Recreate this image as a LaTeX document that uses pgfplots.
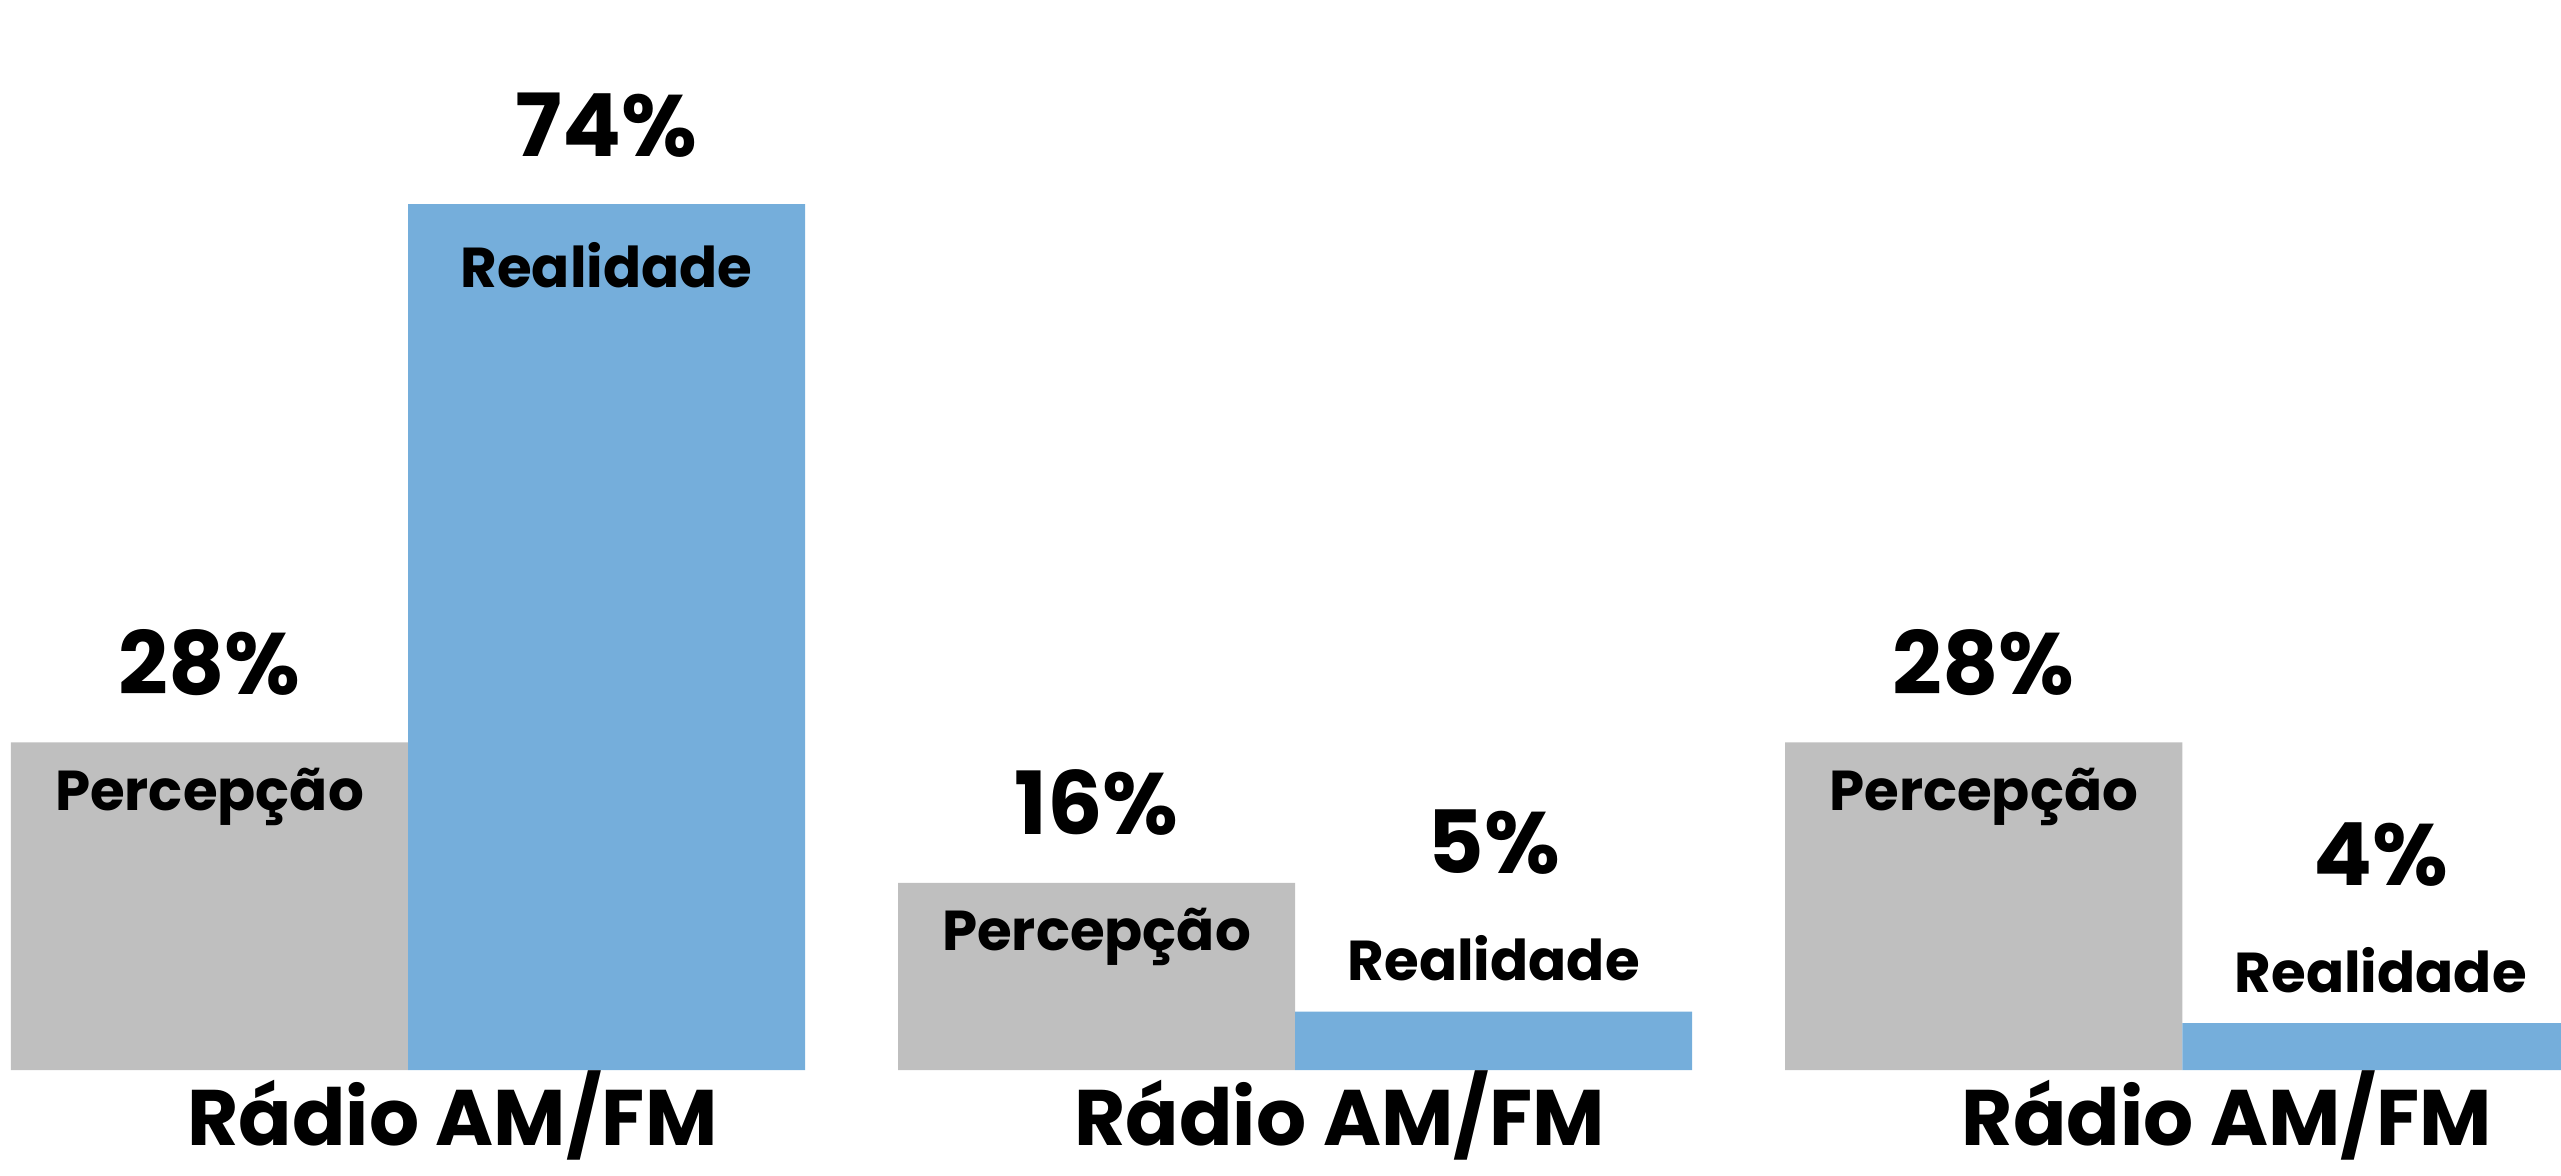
\documentclass[border=0pt]{standalone}
\usepackage{pgfplots}
\pgfplotsset{compat=1.18}
\usepackage{fontspec}
\setmainfont{Poppins}
\definecolor{percgray}{RGB}{191,191,191}
\definecolor{realblue}{RGB}{117,174,219}
\tikzset{
 pct/.style={anchor=base, inner sep=0pt, font=\fontsize{15.5}{18}\selectfont\bfseries},
 lab/.style={anchor=base, inner sep=0pt, font=\fontsize{10}{12}\selectfont\bfseries},
 grp/.style={anchor=base, inner sep=0pt, font=\fontsize{14}{16}\selectfont\bfseries},
}
\begin{document}
\begin{tikzpicture}
\begin{axis}[
 at={(0,0)}, anchor=south west,
 width=16cm, height=7.3409cm, scale only axis,
 xmin=-0.460, xmax=2.427, ymin=-8.974, ymax=91.45,
 axis lines=none, ticks=none, clip=false,
 ybar, bar width=0.4476, bar shift=0pt,
]
\addplot[fill=percgray, draw=none] coordinates {(-0.2238,28) (0.7762,16) (1.7762,28)};
\addplot[fill=realblue, draw=none] coordinates {(0.2238,74) (1.2238,5) (2.2238,4)};
% group 1
\node[pct, yshift=8.5pt] at (axis cs:-0.2238,28) {28\%};
\node[lab, yshift=-12.1pt] at (axis cs:-0.2238,28) {Percepção};
\node[pct, yshift=8.5pt] at (axis cs:0.2238,74) {74\%};
\node[lab, yshift=-14.9pt] at (axis cs:0.2238,74) {Realidade};
% group 2
\node[pct, yshift=8.5pt] at (axis cs:0.7762,16) {16\%};
\node[lab, yshift=-12.1pt] at (axis cs:0.7762,16) {Percepção};
\node[pct, yshift=24.5pt] at (axis cs:1.2238,5) {5\%};
\node[lab, yshift=5.5pt] at (axis cs:1.2238,5) {Realidade};
% group 3
\node[pct, yshift=8.5pt] at (axis cs:1.7762,28) {28\%};
\node[lab, yshift=-12.1pt] at (axis cs:1.7762,28) {Percepção};
\node[pct, yshift=24.5pt] at (axis cs:2.2238,4) {4\%};
\node[lab, yshift=5.5pt] at (axis cs:2.2238,4) {Realidade};
% category labels
\node[grp, yshift=-13.5pt] at (axis cs:0.05,0) {Rádio AM/FM};
\node[grp, yshift=-13.5pt] at (axis cs:1.05,0) {Rádio AM/FM};
\node[grp, yshift=-13.5pt] at (axis cs:2.05,0) {Rádio AM/FM};
\end{axis}
\pgfresetboundingbox
\path (0,0) rectangle (16cm,7.3409cm);
\end{tikzpicture}
\end{document}
